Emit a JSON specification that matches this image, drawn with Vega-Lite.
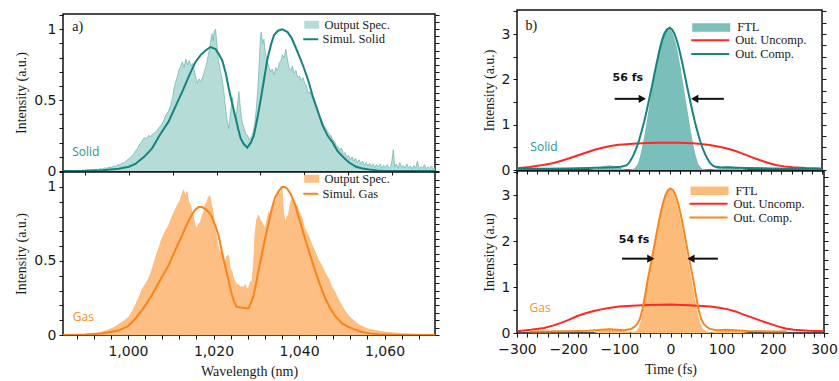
{
 "$schema": "https://vega.github.io/schema/vega-lite/v6.json",
 "background": "white",
 "padding": {"left": 13, "top": 8, "right": 10, "bottom": 2},
 "config": {
  "view": {"stroke": "#111", "strokeWidth": 1.5},
  "axis": {"labelFont": "DejaVu Sans", "labelFontSize": 14, "labelColor": "#1a1a1a", "titleFont": "Liberation Serif", "titleFontSize": 14, "titleFontWeight": "normal", "titleColor": "#1a1a1a", "tickColor": "#111", "domain": false, "grid": false, "tickSize": 4, "labelPadding": 3, "titlePadding": 5},
  "legend": {"labelFont": "Liberation Serif", "labelFontSize": 12.5, "labelColor": "#1a1a1a", "padding": 0, "rowPadding": 0.8}
 },
 "datasets": {
  "solidMeas": [{"wl":985,"v":0.003},{"wl":985.5,"v":0.001},{"wl":986,"v":0.004},{"wl":986.5,"v":0.002},{"wl":987,"v":0.005},{"wl":987.5,"v":0.002},{"wl":988,"v":0.004},{"wl":988.5,"v":0.006},{"wl":989,"v":0.003},{"wl":989.5,"v":0.007},{"wl":990,"v":0.005},{"wl":990.5,"v":0.008},{"wl":991,"v":0.006},{"wl":991.5,"v":0.01},{"wl":992,"v":0.008},{"wl":992.5,"v":0.013},{"wl":993,"v":0.011},{"wl":993.5,"v":0.017},{"wl":994,"v":0.015},{"wl":994.5,"v":0.022},{"wl":995,"v":0.019},{"wl":995.5,"v":0.028},{"wl":996,"v":0.026},{"wl":996.5,"v":0.035},{"wl":997,"v":0.033},{"wl":997.5,"v":0.045},{"wl":998,"v":0.042},{"wl":998.5,"v":0.055},{"wl":999,"v":0.06},{"wl":999.5,"v":0.075},{"wl":1000,"v":0.085},{"wl":1000.5,"v":0.1},{"wl":1001,"v":0.115},{"wl":1001.5,"v":0.14},{"wl":1002,"v":0.16},{"wl":1002.5,"v":0.19},{"wl":1003,"v":0.21},{"wl":1003.5,"v":0.235},{"wl":1004,"v":0.23},{"wl":1004.5,"v":0.25},{"wl":1005,"v":0.245},{"wl":1005.5,"v":0.26},{"wl":1006,"v":0.27},{"wl":1006.5,"v":0.29},{"wl":1007,"v":0.31},{"wl":1007.5,"v":0.33},{"wl":1008,"v":0.36},{"wl":1008.5,"v":0.4},{"wl":1009,"v":0.42},{"wl":1009.5,"v":0.46},{"wl":1010,"v":0.52},{"wl":1010.3,"v":0.58},{"wl":1010.6,"v":0.62},{"wl":1011,"v":0.66},{"wl":1011.4,"v":0.71},{"wl":1011.8,"v":0.74},{"wl":1012.2,"v":0.77},{"wl":1012.6,"v":0.73},{"wl":1013,"v":0.79},{"wl":1013.4,"v":0.75},{"wl":1013.8,"v":0.78},{"wl":1014.2,"v":0.74},{"wl":1014.6,"v":0.76},{"wl":1015,"v":0.7},{"wl":1015.3,"v":0.66},{"wl":1015.6,"v":0.62},{"wl":1016,"v":0.65},{"wl":1016.4,"v":0.63},{"wl":1016.8,"v":0.66},{"wl":1017.2,"v":0.7},{"wl":1017.6,"v":0.74},{"wl":1018,"v":0.8},{"wl":1018.4,"v":0.86},{"wl":1018.7,"v":0.92},{"wl":1019,"v":0.97},{"wl":1019.2,"v":0.92},{"wl":1019.5,"v":0.99},{"wl":1019.8,"v":1.0},{"wl":1020.1,"v":0.88},{"wl":1020.4,"v":0.79},{"wl":1020.8,"v":0.72},{"wl":1021.2,"v":0.66},{"wl":1021.6,"v":0.58},{"wl":1022,"v":0.46},{"wl":1022.4,"v":0.36},{"wl":1022.8,"v":0.3},{"wl":1023.2,"v":0.42},{"wl":1023.6,"v":0.52},{"wl":1024,"v":0.4},{"wl":1024.4,"v":0.36},{"wl":1024.8,"v":0.47},{"wl":1025.1,"v":0.56},{"wl":1025.5,"v":0.42},{"wl":1025.9,"v":0.34},{"wl":1026.3,"v":0.3},{"wl":1026.7,"v":0.26},{"wl":1027.1,"v":0.25},{"wl":1027.5,"v":0.22},{"wl":1027.9,"v":0.24},{"wl":1028.3,"v":0.27},{"wl":1028.7,"v":0.33},{"wl":1029.1,"v":0.45},{"wl":1029.4,"v":0.58},{"wl":1029.7,"v":0.74},{"wl":1030,"v":0.95},{"wl":1030.2,"v":0.98},{"wl":1030.5,"v":0.9},{"wl":1030.8,"v":0.93},{"wl":1031.1,"v":0.84},{"wl":1031.5,"v":0.78},{"wl":1031.9,"v":0.74},{"wl":1032.3,"v":0.7},{"wl":1032.7,"v":0.72},{"wl":1033.1,"v":0.68},{"wl":1033.5,"v":0.73},{"wl":1033.9,"v":0.71},{"wl":1034.3,"v":0.76},{"wl":1034.7,"v":0.78},{"wl":1035,"v":0.82},{"wl":1035.4,"v":0.8},{"wl":1035.8,"v":0.86},{"wl":1036.1,"v":0.8},{"wl":1036.5,"v":0.73},{"wl":1036.9,"v":0.71},{"wl":1037.3,"v":0.74},{"wl":1037.7,"v":0.69},{"wl":1038.1,"v":0.71},{"wl":1038.5,"v":0.66},{"wl":1038.9,"v":0.67},{"wl":1039.3,"v":0.64},{"wl":1039.7,"v":0.66},{"wl":1040.1,"v":0.62},{"wl":1040.5,"v":0.6},{"wl":1040.9,"v":0.55},{"wl":1041.3,"v":0.56},{"wl":1041.7,"v":0.52},{"wl":1042.1,"v":0.5},{"wl":1042.5,"v":0.47},{"wl":1042.9,"v":0.44},{"wl":1043.3,"v":0.4},{"wl":1043.7,"v":0.38},{"wl":1044.1,"v":0.35},{"wl":1044.5,"v":0.32},{"wl":1044.9,"v":0.3},{"wl":1045.3,"v":0.28},{"wl":1045.7,"v":0.26},{"wl":1046.1,"v":0.25},{"wl":1046.5,"v":0.22},{"wl":1046.9,"v":0.21},{"wl":1047.3,"v":0.18},{"wl":1047.7,"v":0.17},{"wl":1048.1,"v":0.15},{"wl":1048.5,"v":0.16},{"wl":1048.9,"v":0.12},{"wl":1049.3,"v":0.13},{"wl":1049.7,"v":0.1},{"wl":1050.1,"v":0.11},{"wl":1050.5,"v":0.08},{"wl":1050.9,"v":0.1},{"wl":1051.3,"v":0.07},{"wl":1051.7,"v":0.09},{"wl":1052.1,"v":0.06},{"wl":1052.5,"v":0.08},{"wl":1052.9,"v":0.05},{"wl":1053.3,"v":0.07},{"wl":1053.7,"v":0.04},{"wl":1054.1,"v":0.06},{"wl":1054.5,"v":0.035},{"wl":1054.9,"v":0.055},{"wl":1055.3,"v":0.03},{"wl":1055.7,"v":0.05},{"wl":1056.1,"v":0.025},{"wl":1056.5,"v":0.045},{"wl":1056.9,"v":0.03},{"wl":1057.3,"v":0.05},{"wl":1057.7,"v":0.02},{"wl":1058.1,"v":0.04},{"wl":1058.5,"v":0.025},{"wl":1058.9,"v":0.045},{"wl":1059.3,"v":0.02},{"wl":1059.7,"v":0.03},{"wl":1060,"v":0.08},{"wl":1060.3,"v":0.15},{"wl":1060.6,"v":0.03},{"wl":1061,"v":0.05},{"wl":1061.4,"v":0.02},{"wl":1061.8,"v":0.06},{"wl":1062.2,"v":0.025},{"wl":1062.6,"v":0.04},{"wl":1063,"v":0.02},{"wl":1063.4,"v":0.05},{"wl":1063.8,"v":0.02},{"wl":1064.2,"v":0.035},{"wl":1064.6,"v":0.015},{"wl":1065,"v":0.04},{"wl":1065.4,"v":0.02},{"wl":1065.8,"v":0.07},{"wl":1066.2,"v":0.015},{"wl":1066.6,"v":0.03},{"wl":1067,"v":0.02},{"wl":1067.4,"v":0.045},{"wl":1067.8,"v":0.015},{"wl":1068.2,"v":0.03},{"wl":1068.6,"v":0.02},{"wl":1069,"v":0.035},{"wl":1069.4,"v":0.015},{"wl":1069.8,"v":0.02}],
  "solidSim": [{"wl":985,"v":0},{"wl":990,"v":0.001},{"wl":994,"v":0.005},{"wl":997.7,"v":0.016},{"wl":1000,"v":0.03},{"wl":1001.5,"v":0.05},{"wl":1003.5,"v":0.1},{"wl":1005.3,"v":0.16},{"wl":1007,"v":0.25},{"wl":1009.1,"v":0.35},{"wl":1010.7,"v":0.46},{"wl":1012.2,"v":0.56},{"wl":1013.7,"v":0.67},{"wl":1015.2,"v":0.77},{"wl":1016.4,"v":0.82},{"wl":1017.5,"v":0.85},{"wl":1018.6,"v":0.875},{"wl":1019.8,"v":0.86},{"wl":1020.6,"v":0.82},{"wl":1021.3,"v":0.78},{"wl":1022.1,"v":0.69},{"wl":1022.8,"v":0.58},{"wl":1023.6,"v":0.47},{"wl":1024.4,"v":0.37},{"wl":1025,"v":0.29},{"wl":1025.5,"v":0.23},{"wl":1026.2,"v":0.19},{"wl":1027,"v":0.165},{"wl":1027.8,"v":0.2},{"wl":1028.5,"v":0.25},{"wl":1029.3,"v":0.37},{"wl":1030.1,"v":0.51},{"wl":1030.9,"v":0.66},{"wl":1031.6,"v":0.79},{"wl":1032.4,"v":0.89},{"wl":1033.1,"v":0.96},{"wl":1034,"v":0.99},{"wl":1035,"v":1.0},{"wl":1036.2,"v":0.98},{"wl":1037.1,"v":0.94},{"wl":1038,"v":0.875},{"wl":1039,"v":0.8},{"wl":1040,"v":0.72},{"wl":1041,"v":0.63},{"wl":1041.9,"v":0.53},{"wl":1043,"v":0.43},{"wl":1044.2,"v":0.32},{"wl":1045.3,"v":0.25},{"wl":1046.5,"v":0.2},{"wl":1047.6,"v":0.14},{"wl":1048.8,"v":0.1},{"wl":1050.2,"v":0.06},{"wl":1051.8,"v":0.03},{"wl":1053.3,"v":0.018},{"wl":1054.8,"v":0.01},{"wl":1056.7,"v":0.004},{"wl":1058.6,"v":0},{"wl":1069.8,"v":0}],
  "gasMeas": [{"wl":984.8,"v":0.001},{"wl":986,"v":0.002},{"wl":988,"v":0.003},{"wl":990,"v":0.005},{"wl":992,"v":0.01},{"wl":993.9,"v":0.02},{"wl":995.5,"v":0.035},{"wl":997,"v":0.055},{"wl":998.5,"v":0.085},{"wl":1000.2,"v":0.12},{"wl":1001,"v":0.16},{"wl":1001.7,"v":0.2},{"wl":1002.5,"v":0.25},{"wl":1003.3,"v":0.31},{"wl":1004,"v":0.34},{"wl":1004.8,"v":0.38},{"wl":1005.6,"v":0.44},{"wl":1006.4,"v":0.52},{"wl":1007.1,"v":0.58},{"wl":1007.9,"v":0.65},{"wl":1008.7,"v":0.7},{"wl":1009.5,"v":0.74},{"wl":1010.3,"v":0.8},{"wl":1011.1,"v":0.85},{"wl":1011.6,"v":0.88},{"wl":1012.2,"v":0.91},{"wl":1012.6,"v":0.95},{"wl":1013,"v":0.98},{"wl":1013.4,"v":0.94},{"wl":1013.8,"v":0.97},{"wl":1014.2,"v":0.9},{"wl":1014.6,"v":0.88},{"wl":1015,"v":0.83},{"wl":1015.3,"v":0.8},{"wl":1015.7,"v":0.74},{"wl":1016.1,"v":0.72},{"wl":1016.5,"v":0.75},{"wl":1016.9,"v":0.76},{"wl":1017.3,"v":0.8},{"wl":1017.7,"v":0.83},{"wl":1018.1,"v":0.88},{"wl":1018.5,"v":0.9},{"wl":1018.8,"v":0.93},{"wl":1019.2,"v":0.94},{"wl":1019.5,"v":0.88},{"wl":1019.8,"v":0.85},{"wl":1020.1,"v":0.78},{"wl":1020.4,"v":0.72},{"wl":1020.8,"v":0.65},{"wl":1021.2,"v":0.58},{"wl":1021.6,"v":0.56},{"wl":1022,"v":0.56},{"wl":1022.3,"v":0.5},{"wl":1022.7,"v":0.49},{"wl":1023.1,"v":0.53},{"wl":1023.5,"v":0.54},{"wl":1023.9,"v":0.45},{"wl":1024.3,"v":0.43},{"wl":1024.7,"v":0.38},{"wl":1025.1,"v":0.36},{"wl":1025.5,"v":0.34},{"wl":1025.9,"v":0.34},{"wl":1026.3,"v":0.32},{"wl":1026.6,"v":0.33},{"wl":1027,"v":0.32},{"wl":1027.4,"v":0.34},{"wl":1027.8,"v":0.31},{"wl":1028.2,"v":0.32},{"wl":1028.6,"v":0.36},{"wl":1029,"v":0.36},{"wl":1029.4,"v":0.5},{"wl":1029.7,"v":0.68},{"wl":1030.1,"v":0.78},{"wl":1030.5,"v":0.81},{"wl":1030.9,"v":0.78},{"wl":1031.3,"v":0.76},{"wl":1031.7,"v":0.74},{"wl":1032.1,"v":0.72},{"wl":1032.5,"v":0.78},{"wl":1032.9,"v":0.83},{"wl":1033.3,"v":0.8},{"wl":1033.7,"v":0.86},{"wl":1034,"v":0.9},{"wl":1034.4,"v":0.88},{"wl":1034.8,"v":0.93},{"wl":1035.2,"v":0.97},{"wl":1035.6,"v":0.94},{"wl":1036,"v":1.0},{"wl":1036.4,"v":0.82},{"wl":1036.8,"v":0.76},{"wl":1037.2,"v":0.8},{"wl":1037.5,"v":0.81},{"wl":1037.9,"v":0.88},{"wl":1038.3,"v":0.92},{"wl":1038.7,"v":0.89},{"wl":1039.1,"v":0.87},{"wl":1039.5,"v":0.88},{"wl":1039.9,"v":0.84},{"wl":1040.3,"v":0.82},{"wl":1040.7,"v":0.79},{"wl":1041.1,"v":0.74},{"wl":1041.5,"v":0.71},{"wl":1042.2,"v":0.67},{"wl":1043,"v":0.61},{"wl":1043.8,"v":0.56},{"wl":1044.5,"v":0.51},{"wl":1045.3,"v":0.47},{"wl":1046.1,"v":0.42},{"wl":1046.9,"v":0.38},{"wl":1047.6,"v":0.33},{"wl":1048.4,"v":0.29},{"wl":1049.2,"v":0.24},{"wl":1050,"v":0.2},{"wl":1050.8,"v":0.16},{"wl":1051.6,"v":0.13},{"wl":1052.3,"v":0.11},{"wl":1053.1,"v":0.09},{"wl":1054,"v":0.07},{"wl":1055,"v":0.055},{"wl":1056.2,"v":0.04},{"wl":1058,"v":0.03},{"wl":1060.1,"v":0.02},{"wl":1062,"v":0.015},{"wl":1064,"v":0.01},{"wl":1066,"v":0.008},{"wl":1068.7,"v":0.005},{"wl":1071.8,"v":0.003}],
  "gasSim": [{"wl":984.8,"v":0},{"wl":990,"v":0.003},{"wl":993.9,"v":0.01},{"wl":997.8,"v":0.03},{"wl":1000,"v":0.06},{"wl":1001.7,"v":0.11},{"wl":1003.6,"v":0.18},{"wl":1005.6,"v":0.27},{"wl":1007.5,"v":0.37},{"wl":1009.5,"v":0.47},{"wl":1011,"v":0.57},{"wl":1012.6,"v":0.67},{"wl":1013.8,"v":0.75},{"wl":1014.9,"v":0.81},{"wl":1015.7,"v":0.845},{"wl":1016.5,"v":0.865},{"wl":1017.3,"v":0.865},{"wl":1018.1,"v":0.85},{"wl":1018.9,"v":0.83},{"wl":1019.6,"v":0.8},{"wl":1020.4,"v":0.74},{"wl":1021.2,"v":0.67},{"wl":1021.9,"v":0.57},{"wl":1022.7,"v":0.47},{"wl":1023.5,"v":0.37},{"wl":1024.3,"v":0.27},{"wl":1024.9,"v":0.22},{"wl":1025.4,"v":0.19},{"wl":1026.5,"v":0.185},{"wl":1027.5,"v":0.18},{"wl":1028.2,"v":0.18},{"wl":1028.8,"v":0.22},{"wl":1029.4,"v":0.27},{"wl":1030.1,"v":0.37},{"wl":1030.9,"v":0.49},{"wl":1031.9,"v":0.63},{"wl":1032.9,"v":0.76},{"wl":1033.6,"v":0.85},{"wl":1034.4,"v":0.93},{"wl":1035.2,"v":0.97},{"wl":1036,"v":1.0},{"wl":1036.6,"v":1.0},{"wl":1037.2,"v":0.99},{"wl":1038.1,"v":0.95},{"wl":1039.1,"v":0.88},{"wl":1040.2,"v":0.77},{"wl":1041.4,"v":0.65},{"wl":1042.6,"v":0.54},{"wl":1043.8,"v":0.43},{"wl":1045,"v":0.33},{"wl":1046.1,"v":0.25},{"wl":1047.3,"v":0.18},{"wl":1048.4,"v":0.13},{"wl":1050,"v":0.08},{"wl":1051.6,"v":0.054},{"wl":1053.2,"v":0.035},{"wl":1054.7,"v":0.02},{"wl":1056.6,"v":0.01},{"wl":1058.6,"v":0.005},{"wl":1062,"v":0.001},{"wl":1071.8,"v":0}],
  "sFTL": [{"t":-160,"v":0},{"t":-145,"v":0.03},{"t":-130,"v":0.08},{"t":-117,"v":0.105},{"t":-105,"v":0.08},{"t":-95,"v":0.04},{"t":-87,"v":0.01},{"t":-78,"v":0.01},{"t":-70,"v":0.03},{"t":-63,"v":0.12},{"t":-58,"v":0.3},{"t":-53,"v":0.55},{"t":-48,"v":0.85},{"t":-43,"v":1.2},{"t":-38,"v":1.55},{"t":-33,"v":1.9},{"t":-28,"v":2.25},{"t":-23,"v":2.57},{"t":-18,"v":2.83},{"t":-13,"v":3.0},{"t":-8,"v":3.1},{"t":-3,"v":3.12},{"t":2,"v":3.1},{"t":7,"v":3.0},{"t":12,"v":2.83},{"t":17,"v":2.57},{"t":22,"v":2.25},{"t":27,"v":1.9},{"t":32,"v":1.55},{"t":37,"v":1.2},{"t":42,"v":0.85},{"t":47,"v":0.55},{"t":52,"v":0.3},{"t":57,"v":0.12},{"t":64,"v":0.03},{"t":75,"v":0.01},{"t":85,"v":0.01},{"t":95,"v":0.04},{"t":105,"v":0.08},{"t":115,"v":0.09},{"t":125,"v":0.07},{"t":140,"v":0.03},{"t":155,"v":0}],
  "sUnc": [{"t":-300,"v":0.04},{"t":-275,"v":0.065},{"t":-249,"v":0.11},{"t":-230,"v":0.15},{"t":-214,"v":0.2},{"t":-197,"v":0.26},{"t":-181,"v":0.32},{"t":-165,"v":0.38},{"t":-149,"v":0.44},{"t":-132,"v":0.49},{"t":-116,"v":0.53},{"t":-100,"v":0.555},{"t":-84,"v":0.57},{"t":-65,"v":0.585},{"t":-45,"v":0.595},{"t":-25,"v":0.6},{"t":-3,"v":0.6},{"t":20,"v":0.6},{"t":46,"v":0.59},{"t":62,"v":0.575},{"t":79,"v":0.55},{"t":95,"v":0.52},{"t":111,"v":0.48},{"t":127,"v":0.43},{"t":144,"v":0.36},{"t":160,"v":0.29},{"t":177,"v":0.22},{"t":193,"v":0.16},{"t":209,"v":0.11},{"t":225,"v":0.08},{"t":242,"v":0.06},{"t":268,"v":0.045},{"t":300,"v":0.035}],
  "sComp": [{"t":-300,"v":0.02},{"t":-250,"v":0.025},{"t":-200,"v":0.035},{"t":-160,"v":0.045},{"t":-130,"v":0.055},{"t":-110,"v":0.06},{"t":-95,"v":0.07},{"t":-85,"v":0.1},{"t":-80,"v":0.15},{"t":-75,"v":0.24},{"t":-70,"v":0.35},{"t":-65,"v":0.49},{"t":-60,"v":0.65},{"t":-55,"v":0.85},{"t":-50,"v":1.06},{"t":-45,"v":1.3},{"t":-40,"v":1.56},{"t":-35,"v":1.82},{"t":-30,"v":2.1},{"t":-25,"v":2.37},{"t":-20,"v":2.62},{"t":-15,"v":2.84},{"t":-10,"v":3.0},{"t":-5,"v":3.1},{"t":0,"v":3.14},{"t":5,"v":3.1},{"t":10,"v":3.0},{"t":15,"v":2.84},{"t":20,"v":2.62},{"t":25,"v":2.37},{"t":30,"v":2.1},{"t":35,"v":1.82},{"t":40,"v":1.56},{"t":45,"v":1.3},{"t":50,"v":1.06},{"t":55,"v":0.85},{"t":60,"v":0.65},{"t":65,"v":0.49},{"t":70,"v":0.35},{"t":75,"v":0.24},{"t":80,"v":0.15},{"t":85,"v":0.1},{"t":90,"v":0.07},{"t":100,"v":0.06},{"t":120,"v":0.055},{"t":150,"v":0.045},{"t":200,"v":0.035},{"t":250,"v":0.025},{"t":300,"v":0.02}],
  "gFTL": [{"t":-150,"v":0},{"t":-135,"v":0.05},{"t":-120,"v":0.1},{"t":-105,"v":0.08},{"t":-90,"v":0.03},{"t":-78,"v":0.01},{"t":-68,"v":0.04},{"t":-62,"v":0.12},{"t":-57,"v":0.3},{"t":-52,"v":0.6},{"t":-47,"v":0.95},{"t":-42,"v":1.28},{"t":-37,"v":1.6},{"t":-32,"v":1.9},{"t":-27,"v":2.2},{"t":-22,"v":2.5},{"t":-17,"v":2.76},{"t":-12,"v":2.96},{"t":-7,"v":3.09},{"t":-2,"v":3.14},{"t":3,"v":3.1},{"t":8,"v":3.0},{"t":13,"v":2.8},{"t":18,"v":2.56},{"t":23,"v":2.27},{"t":28,"v":1.97},{"t":33,"v":1.66},{"t":38,"v":1.36},{"t":43,"v":1.05},{"t":48,"v":0.73},{"t":53,"v":0.43},{"t":58,"v":0.22},{"t":63,"v":0.1},{"t":70,"v":0.03},{"t":80,"v":0.01},{"t":95,"v":0.04},{"t":110,"v":0.07},{"t":125,"v":0.05},{"t":140,"v":0.02},{"t":155,"v":0}],
  "gUnc": [{"t":-300,"v":0.04},{"t":-273,"v":0.07},{"t":-247,"v":0.11},{"t":-230,"v":0.16},{"t":-214,"v":0.22},{"t":-198,"v":0.29},{"t":-182,"v":0.37},{"t":-166,"v":0.43},{"t":-150,"v":0.48},{"t":-133,"v":0.52},{"t":-117,"v":0.55},{"t":-100,"v":0.575},{"t":-85,"v":0.59},{"t":-65,"v":0.6},{"t":-45,"v":0.61},{"t":-20,"v":0.615},{"t":0,"v":0.62},{"t":23,"v":0.61},{"t":46,"v":0.6},{"t":62,"v":0.59},{"t":78,"v":0.575},{"t":95,"v":0.55},{"t":111,"v":0.52},{"t":127,"v":0.47},{"t":143,"v":0.4},{"t":160,"v":0.335},{"t":176,"v":0.27},{"t":192,"v":0.21},{"t":208,"v":0.15},{"t":225,"v":0.1},{"t":241,"v":0.07},{"t":270,"v":0.05},{"t":300,"v":0.04}],
  "gComp": [{"t":-275,"v":0.03},{"t":-250,"v":0.035},{"t":-200,"v":0.04},{"t":-160,"v":0.05},{"t":-135,"v":0.07},{"t":-120,"v":0.08},{"t":-105,"v":0.07},{"t":-90,"v":0.06},{"t":-80,"v":0.08},{"t":-75,"v":0.1},{"t":-70,"v":0.14},{"t":-65,"v":0.2},{"t":-60,"v":0.3},{"t":-55,"v":0.5},{"t":-50,"v":0.8},{"t":-45,"v":1.13},{"t":-40,"v":1.42},{"t":-35,"v":1.7},{"t":-30,"v":2.0},{"t":-25,"v":2.3},{"t":-20,"v":2.58},{"t":-15,"v":2.82},{"t":-10,"v":3.0},{"t":-5,"v":3.11},{"t":0,"v":3.15},{"t":5,"v":3.11},{"t":10,"v":3.0},{"t":15,"v":2.82},{"t":20,"v":2.58},{"t":25,"v":2.3},{"t":30,"v":2.0},{"t":35,"v":1.7},{"t":40,"v":1.42},{"t":45,"v":1.13},{"t":50,"v":0.8},{"t":55,"v":0.5},{"t":60,"v":0.3},{"t":65,"v":0.2},{"t":70,"v":0.14},{"t":75,"v":0.1},{"t":80,"v":0.08},{"t":90,"v":0.06},{"t":100,"v":0.065},{"t":110,"v":0.07},{"t":125,"v":0.06},{"t":150,"v":0.045},{"t":190,"v":0.035},{"t":227,"v":0.03}]
 },
 "spacing": 40,
 "resolve": {"scale": {"fill": "independent", "stroke": "independent"}},
 "hconcat": [
  {
   "spacing": 1,
   "bounds": "flush",
   "resolve": {"scale": {"fill": "independent", "stroke": "independent"}},
   "vconcat": [
    {"width": 372, "height": 3, "view": {"stroke": null}, "data": {"values": [{}]}, "mark": {"type": "point", "opacity": 0}},
    {
     "width": 372, "height": 157,
     "resolve": {"axis": {"x": "independent", "y": "independent"}},
     "layer": [
      {"data": {"name": "solidMeas"}, "mark": {"type": "area", "clip": true},
       "encoding": {
        "x": {"field": "wl", "type": "quantitative", "scale": {"domain": [985, 1069.8], "nice": false, "zero": false}, "axis": {"orient": "bottom", "title": null, "labels": false, "values": [990,1000,1010,1020,1030,1040,1050,1060]}},
        "y": {"field": "v", "type": "quantitative", "scale": {"domain": [0, 1.108], "nice": false, "zero": false}, "axis": {"title": "Intensity (a.u.)", "values": [0,0.1,0.2,0.3,0.4,0.5,0.6,0.7,0.8,0.9,1,1.1], "labelExpr": "datum.value === 0 ? '0' : datum.value === 0.5 ? '0.5' : datum.value === 1 ? '1' : ''"}},
        "fill": {"datum": "Output Spec.", "type": "nominal", "scale": {"range": ["#b6dcd8"]}, "legend": {"title": null, "orient": "none", "legendX": 239, "legendY": 4.5, "symbolType": "M-1,-1H2.75V1H-1Z", "symbolSize": 64, "symbolStrokeWidth": 0, "symbolOpacity": 1, "labelOffset": 10}}
       }},
      {"data": {"name": "solidMeas"}, "mark": {"type": "line", "color": "#58aba5", "strokeWidth": 0.6, "clip": true},
       "encoding": {"x": {"field": "wl", "type": "quantitative", "axis": null}, "y": {"field": "v", "type": "quantitative", "axis": null}}},
      {"data": {"name": "solidSim"}, "mark": {"type": "line", "strokeWidth": 2, "clip": true},
       "encoding": {"x": {"field": "wl", "type": "quantitative", "axis": null}, "y": {"field": "v", "type": "quantitative", "axis": null},
        "stroke": {"datum": "Simul. Solid", "type": "nominal", "scale": {"range": ["#16837f"]}, "legend": {"title": null, "orient": "none", "legendX": 238, "legendY": 19, "symbolType": "M-1,0H2.75", "symbolSize": 64, "symbolStrokeWidth": 2, "labelOffset": 9}}}},
      {"data": {"values": [{"wl": 987.1, "v": 1.016, "label": "a)"}]}, "mark": {"type": "text", "align": "left", "baseline": "middle", "font": "Liberation Serif", "fontSize": 14, "color": "#111"},
       "encoding": {"x": {"field": "wl", "type": "quantitative", "axis": null}, "y": {"field": "v", "type": "quantitative", "axis": null}, "text": {"field": "label"}}},
      {"data": {"values": [{"wl": 987.1, "v": 0.134, "label": "Solid"}]}, "mark": {"type": "text", "align": "left", "baseline": "middle", "font": "Open Sans", "fontSize": 12, "color": "#2a9690"},
       "encoding": {"x": {"field": "wl", "type": "quantitative", "axis": null}, "y": {"field": "v", "type": "quantitative", "axis": null}, "text": {"field": "label"}}},
      {"data": {"name": "solidSim"}, "mark": {"type": "point", "opacity": 0},
       "encoding": {"x": {"field": "wl", "type": "quantitative", "axis": null}, "y": {"field": "v", "type": "quantitative", "axis": {"orient": "right", "title": null, "labels": false, "values": [0,0.05,0.1,0.15,0.2,0.25,0.3,0.35,0.4,0.45,0.5,0.55,0.6,0.65,0.7,0.75,0.8,0.85,0.9,0.95,1,1.05,1.1]}}}}
     ]
    },
    {
     "width": 372, "height": 163,
     "resolve": {"axis": {"x": "independent", "y": "independent"}},
     "layer": [
      {"data": {"name": "gasMeas"}, "mark": {"type": "area", "clip": true},
       "encoding": {
        "x": {"field": "wl", "type": "quantitative", "scale": {"domain": [984.8, 1071.8], "nice": false, "zero": false}, "axis": {"orient": "bottom", "title": "Wavelength (nm)", "titlePadding": 6, "labelPadding": 5, "labelFlush": false, "values": [988,992,996,1000,1004,1008,1012,1016,1020,1024,1028,1032,1036,1040,1044,1048,1052,1056,1060,1064,1068], "labelOverlap": false, "labelExpr": "datum.value % 20 === 0 ? format(datum.value, ',') : ''"}},
        "y": {"field": "v", "type": "quantitative", "scale": {"domain": [0, 1.101], "nice": false, "zero": false}, "axis": {"title": "Intensity (a.u.)", "values": [0,0.1,0.2,0.3,0.4,0.5,0.6,0.7,0.8,0.9,1,1.1], "labelExpr": "datum.value === 0 ? '0' : datum.value === 0.5 ? '0.5' : datum.value === 1 ? '1' : ''"}},
        "fill": {"datum": "Output Spec.", "type": "nominal", "scale": {"range": ["#fdbf83"]}, "legend": {"title": null, "orient": "none", "legendX": 239, "legendY": 0.5, "symbolType": "M-1,-1H2.75V1H-1Z", "symbolSize": 64, "symbolStrokeWidth": 0, "symbolOpacity": 1, "labelOffset": 10}}
       }},
      {"data": {"name": "gasMeas"}, "mark": {"type": "line", "color": "#fcae63", "strokeWidth": 0.6, "clip": true},
       "encoding": {"x": {"field": "wl", "type": "quantitative", "axis": null}, "y": {"field": "v", "type": "quantitative", "axis": null}}},
      {"data": {"name": "gasSim"}, "mark": {"type": "line", "strokeWidth": 2, "clip": true},
       "encoding": {"x": {"field": "wl", "type": "quantitative", "axis": null}, "y": {"field": "v", "type": "quantitative", "axis": null},
        "stroke": {"datum": "Simul. Gas", "type": "nominal", "scale": {"range": ["#f7841c"]}, "legend": {"title": null, "orient": "none", "legendX": 238, "legendY": 15.5, "symbolType": "M-1,0H2.75", "symbolSize": 64, "symbolStrokeWidth": 2, "labelOffset": 9}}}},
      {"data": {"values": [{"wl": 987.1, "v": 0.12, "label": "Gas"}]}, "mark": {"type": "text", "align": "left", "baseline": "middle", "font": "Open Sans", "fontSize": 12, "color": "#f7902c"},
       "encoding": {"x": {"field": "wl", "type": "quantitative", "axis": null}, "y": {"field": "v", "type": "quantitative", "axis": null}, "text": {"field": "label"}}},
      {"data": {"name": "gasSim"}, "mark": {"type": "point", "opacity": 0},
       "encoding": {"x": {"field": "wl", "type": "quantitative", "axis": null}, "y": {"field": "v", "type": "quantitative", "axis": {"orient": "right", "title": null, "labels": false, "values": [0,0.05,0.1,0.15,0.2,0.25,0.3,0.35,0.4,0.45,0.5,0.55,0.6,0.65,0.7,0.75,0.8,0.85,0.9,0.95,1,1.05,1.1]}}}}
     ]
    }
   ]
  },
  {
   "spacing": 1,
   "bounds": "flush",
   "resolve": {"scale": {"fill": "independent", "stroke": "independent"}},
   "vconcat": [
    {
     "width": 305, "height": 160,
     "resolve": {"axis": {"x": "independent", "y": "independent"}},
     "layer": [
      {"data": {"name": "sFTL"}, "mark": {"type": "area", "clip": true},
       "encoding": {
        "x": {"field": "t", "type": "quantitative", "scale": {"domain": [-300, 300], "nice": false, "zero": false}, "axis": {"orient": "bottom", "title": null, "labels": false, "values": [-300,-280,-260,-240,-220,-200,-180,-160,-140,-120,-100,-80,-60,-40,-20,0,20,40,60,80,100,120,140,160,180,200,220,240,260,280,300]}},
        "y": {"field": "v", "type": "quantitative", "scale": {"domain": [0, 3.53], "nice": false, "zero": false}, "axis": {"title": "Intensity (a.u.)", "values": [0,0.5,1,1.5,2,2.5,3,3.5], "labelExpr": "datum.value % 1 === 0 ? format(datum.value, 'd') : ''"}},
        "fill": {"datum": "FTL", "type": "nominal", "scale": {"range": ["#7bbfba"]}, "legend": {"title": null, "orient": "none", "legendX": 173, "legendY": 11.2, "symbolType": "M-1,-1.05H8.5V1.05H-1Z", "symbolSize": 64, "symbolStrokeWidth": 0, "symbolOpacity": 1, "labelOffset": 34.7}}
       }},
      {"data": {"name": "sUnc"}, "mark": {"type": "line", "strokeWidth": 2, "clip": true},
       "encoding": {"x": {"field": "t", "type": "quantitative", "axis": null}, "y": {"field": "v", "type": "quantitative", "axis": null},
        "stroke": {"datum": "Out. Uncomp.", "type": "nominal", "scale": {"domain": ["Out. Uncomp.", "Out. Comp."], "range": ["#ff2626", "#16837f"]}, "legend": {"title": null, "orient": "none", "legendX": 172, "legendY": 24, "symbolType": "M-1,0H8.5", "symbolSize": 64, "symbolStrokeWidth": 2, "labelOffset": 33.7}}}},
      {"data": {"name": "sComp"}, "mark": {"type": "line", "strokeWidth": 2, "clip": true},
       "encoding": {"x": {"field": "t", "type": "quantitative", "axis": null}, "y": {"field": "v", "type": "quantitative", "axis": null},
        "stroke": {"datum": "Out. Comp.", "type": "nominal"}}},
      {"data": {"values": [{"t1": -107.8, "t2": -55, "v": 1.57}, {"t1": 51, "t2": 106.8, "v": 1.57}]}, "mark": {"type": "rule", "color": "#111", "strokeWidth": 2},
       "encoding": {"x": {"field": "t1", "type": "quantitative", "axis": null}, "x2": {"field": "t2"}, "y": {"field": "v", "type": "quantitative", "axis": null}}},
      {"data": {"values": [{"t": -53.5, "v": 1.57}]}, "mark": {"type": "point", "shape": "triangle-right", "filled": true, "color": "#111", "opacity": 1, "size": 70},
       "encoding": {"x": {"field": "t", "type": "quantitative", "axis": null}, "y": {"field": "v", "type": "quantitative", "axis": null}}},
      {"data": {"values": [{"t": 49.5, "v": 1.57}]}, "mark": {"type": "point", "shape": "triangle-left", "filled": true, "color": "#111", "opacity": 1, "size": 70},
       "encoding": {"x": {"field": "t", "type": "quantitative", "axis": null}, "y": {"field": "v", "type": "quantitative", "axis": null}}},
      {"data": {"values": [{"t": -82, "v": 2.03, "label": "56 fs"}]}, "mark": {"type": "text", "align": "center", "baseline": "middle", "font": "DejaVu Sans", "fontWeight": "bold", "fontSize": 11, "color": "#111"},
       "encoding": {"x": {"field": "t", "type": "quantitative", "axis": null}, "y": {"field": "v", "type": "quantitative", "axis": null}, "text": {"field": "label"}}},
      {"data": {"values": [{"t": -283.4, "v": 3.17, "label": "b)"}]}, "mark": {"type": "text", "align": "left", "baseline": "middle", "font": "Liberation Serif", "fontSize": 14, "color": "#111"},
       "encoding": {"x": {"field": "t", "type": "quantitative", "axis": null}, "y": {"field": "v", "type": "quantitative", "axis": null}, "text": {"field": "label"}}},
      {"data": {"values": [{"t": -273.7, "v": 0.5, "label": "Solid"}]}, "mark": {"type": "text", "align": "left", "baseline": "middle", "font": "Open Sans", "fontSize": 12, "color": "#2a9690"},
       "encoding": {"x": {"field": "t", "type": "quantitative", "axis": null}, "y": {"field": "v", "type": "quantitative", "axis": null}, "text": {"field": "label"}}},
      {"data": {"name": "sUnc"}, "mark": {"type": "point", "opacity": 0},
       "encoding": {"x": {"field": "t", "type": "quantitative", "axis": null}, "y": {"field": "v", "type": "quantitative", "axis": {"orient": "right", "title": null, "labels": false, "values": [0,0.25,0.5,0.75,1,1.25,1.5,1.75,2,2.25,2.5,2.75,3,3.25,3.5]}}}}
     ]
    },
    {
     "width": 307, "height": 162,
     "resolve": {"axis": {"x": "independent", "y": "independent"}},
     "layer": [
      {"data": {"name": "gFTL"}, "mark": {"type": "area", "clip": true},
       "encoding": {
        "x": {"field": "t", "type": "quantitative", "scale": {"domain": [-300, 300], "nice": false, "zero": false}, "axis": {"orient": "bottom", "title": "Time (fs)", "titlePadding": 6, "labelPadding": 5, "labelFlush": false, "values": [-300,-280,-260,-240,-220,-200,-180,-160,-140,-120,-100,-80,-60,-40,-20,0,20,40,60,80,100,120,140,160,180,200,220,240,260,280,300], "labelOverlap": false, "labelExpr": "datum.value % 100 === 0 ? format(datum.value, 'd') : ''"}},
        "y": {"field": "v", "type": "quantitative", "scale": {"domain": [0, 3.53], "nice": false, "zero": false}, "axis": {"title": "Intensity (a.u)", "values": [0,0.5,1,1.5,2,2.5,3,3.5], "labelExpr": "datum.value % 1 === 0 ? format(datum.value, 'd') : ''"}},
        "fill": {"datum": "FTL", "type": "nominal", "scale": {"range": ["#fdbb7a"]}, "legend": {"title": null, "orient": "none", "legendX": 171.3, "legendY": 13.5, "symbolType": "M-1,-1.05H8.5V1.05H-1Z", "symbolSize": 64, "symbolStrokeWidth": 0, "symbolOpacity": 1, "labelOffset": 34.7}}
       }},
      {"data": {"name": "gUnc"}, "mark": {"type": "line", "strokeWidth": 2, "clip": true},
       "encoding": {"x": {"field": "t", "type": "quantitative", "axis": null}, "y": {"field": "v", "type": "quantitative", "axis": null},
        "stroke": {"datum": "Out. Uncomp.", "type": "nominal", "scale": {"domain": ["Out. Uncomp.", "Out. Comp."], "range": ["#ff2626", "#f7861f"]}, "legend": {"title": null, "orient": "none", "legendX": 170.3, "legendY": 26.5, "symbolType": "M-1,0H8.5", "symbolSize": 64, "symbolStrokeWidth": 2, "labelOffset": 33.7}}}},
      {"data": {"name": "gComp"}, "mark": {"type": "line", "strokeWidth": 2, "clip": true},
       "encoding": {"x": {"field": "t", "type": "quantitative", "axis": null}, "y": {"field": "v", "type": "quantitative", "axis": null},
        "stroke": {"datum": "Out. Comp.", "type": "nominal"}}},
      {"data": {"values": [{"t1": -94.7, "t2": -40, "v": 1.62}, {"t1": 41.5, "t2": 92.6, "v": 1.62}]}, "mark": {"type": "rule", "color": "#111", "strokeWidth": 2},
       "encoding": {"x": {"field": "t1", "type": "quantitative", "axis": null}, "x2": {"field": "t2"}, "y": {"field": "v", "type": "quantitative", "axis": null}}},
      {"data": {"values": [{"t": -38.5, "v": 1.62}]}, "mark": {"type": "point", "shape": "triangle-right", "filled": true, "color": "#111", "opacity": 1, "size": 70},
       "encoding": {"x": {"field": "t", "type": "quantitative", "axis": null}, "y": {"field": "v", "type": "quantitative", "axis": null}}},
      {"data": {"values": [{"t": 40, "v": 1.62}]}, "mark": {"type": "point", "shape": "triangle-left", "filled": true, "color": "#111", "opacity": 1, "size": 70},
       "encoding": {"x": {"field": "t", "type": "quantitative", "axis": null}, "y": {"field": "v", "type": "quantitative", "axis": null}}},
      {"data": {"values": [{"t": -71.4, "v": 2.03, "label": "54 fs"}]}, "mark": {"type": "text", "align": "center", "baseline": "middle", "font": "DejaVu Sans", "fontWeight": "bold", "fontSize": 11, "color": "#111"},
       "encoding": {"x": {"field": "t", "type": "quantitative", "axis": null}, "y": {"field": "v", "type": "quantitative", "axis": null}, "text": {"field": "label"}}},
      {"data": {"values": [{"t": -275.6, "v": 0.545, "label": "Gas"}]}, "mark": {"type": "text", "align": "left", "baseline": "middle", "font": "Open Sans", "fontSize": 12, "color": "#f7902c"},
       "encoding": {"x": {"field": "t", "type": "quantitative", "axis": null}, "y": {"field": "v", "type": "quantitative", "axis": null}, "text": {"field": "label"}}},
      {"data": {"name": "gUnc"}, "mark": {"type": "point", "opacity": 0},
       "encoding": {"x": {"field": "t", "type": "quantitative", "axis": null}, "y": {"field": "v", "type": "quantitative", "axis": {"orient": "right", "title": null, "labels": false, "values": [0,0.2,0.4,0.6,0.8,1,1.2,1.4,1.6,1.8,2,2.2,2.4,2.6,2.8,3,3.2,3.4]}}}}
     ]
    }
   ]
  }
 ]
}
